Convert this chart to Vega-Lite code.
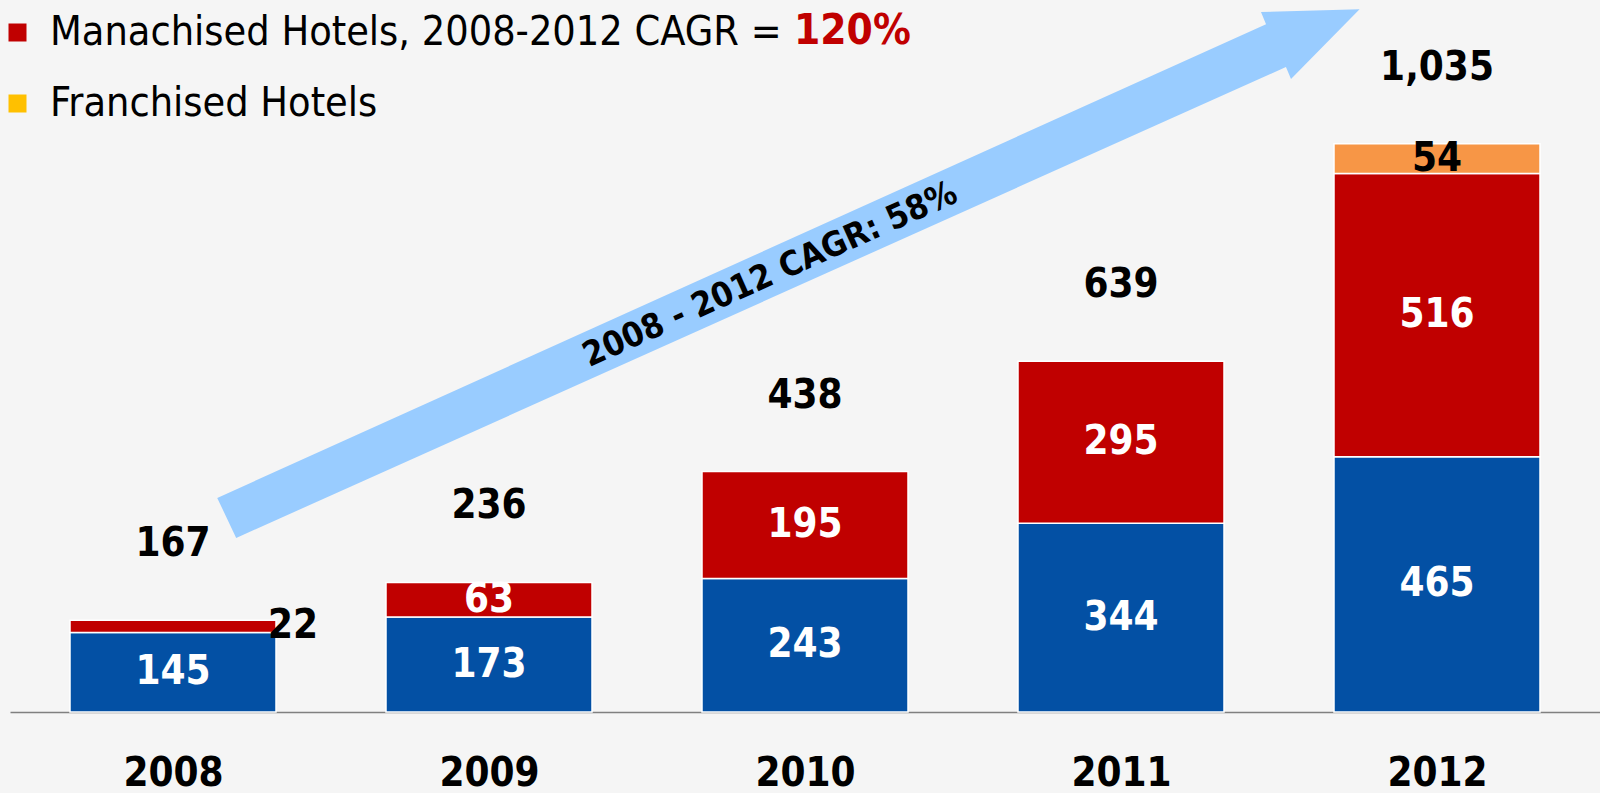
{
  "$schema": "https://vega.github.io/schema/vega-lite/v6.json",
  "width": 1590,
  "height": 712,
  "autosize": {"type": "none"},
  "padding": {"left": 10, "top": 0, "right": 0, "bottom": 81},
  "background": "#F5F5F5",
  "config": {"view": {"stroke": null}, "font": "DejaVu Sans Condensed"},
  "datasets": {
    "hotels": [
      {"year": 2008, "type": "Owned", "seg": 1, "value": 145},
      {"year": 2008, "type": "Manachised", "seg": 2, "value": 22},
      {"year": 2009, "type": "Owned", "seg": 1, "value": 173},
      {"year": 2009, "type": "Manachised", "seg": 2, "value": 63},
      {"year": 2010, "type": "Owned", "seg": 1, "value": 243},
      {"year": 2010, "type": "Manachised", "seg": 2, "value": 195},
      {"year": 2011, "type": "Owned", "seg": 1, "value": 344},
      {"year": 2011, "type": "Manachised", "seg": 2, "value": 295},
      {"year": 2012, "type": "Owned", "seg": 1, "value": 465},
      {"year": 2012, "type": "Manachised", "seg": 2, "value": 516},
      {"year": 2012, "type": "Franchised", "seg": 3, "value": 54}
    ],
    "arrow": [
      {"pt": 1, "year": 2008.14, "value": 390},
      {"pt": 2, "year": 2011.459, "value": 1253},
      {"pt": 3, "year": 2011.443, "value": 1275},
      {"pt": 4, "year": 2011.755, "value": 1280},
      {"pt": 5, "year": 2011.538, "value": 1153},
      {"pt": 6, "year": 2011.522, "value": 1175},
      {"pt": 7, "year": 2008.2, "value": 317}
    ],
    "arrowText": [
      {"year": 2009.89, "value": 796, "label": "2008 - 2012 CAGR: 58%"}
    ],
    "cagr": [
      {"year": 2010.15, "value": 1240, "label": "120%"}
    ]
  },
  "layer": [
    {
      "data": {"name": "arrow"},
      "mark": {"type": "line", "interpolate": "linear-closed", "color": "#99CCFF", "fill": "#99CCFF", "strokeWidth": 0},
      "encoding": {
        "x": {"field": "year", "type": "quantitative", "scale": {"domain": [2007.5, 2012.5], "nice": false, "zero": false},
          "axis": {"values": [2008, 2009, 2010, 2011, 2012], "format": "d", "title": null, "ticks": false, "grid": false,
            "labelFontSize": 40, "labelFontWeight": "bold", "labelColor": "black", "labelPadding": 41,
            "labelFont": "DejaVu Sans Condensed", "domainColor": "#808080", "domainWidth": 1.5}},
        "y": {"field": "value", "type": "quantitative", "scale": {"domain": [0, 1297], "nice": false}, "axis": null},
        "order": {"field": "pt"}
      }
    },
    {
      "data": {"name": "arrowText"},
      "mark": {"type": "text", "angle": -24.2, "fontSize": 34, "fontWeight": "bold", "color": "black", "baseline": "middle", "align": "center"},
      "encoding": {
        "x": {"field": "year", "type": "quantitative"},
        "y": {"field": "value", "type": "quantitative"},
        "text": {"field": "label"}
      }
    },
    {
      "data": {"name": "hotels"},
      "transform": [{"filter": "datum.type != 'Owned'"}],
      "mark": {"type": "square", "opacity": 0},
      "encoding": {
        "x": {"field": "year", "type": "quantitative"},
        "y": {"datum": 0, "type": "quantitative"},
        "fill": {"field": "type", "type": "nominal",
          "scale": {"domain": ["Manachised", "Franchised"], "range": ["#C00000", "#FFC000"]},
          "legend": {"orient": "none", "legendX": -13, "legendY": 12, "title": null, "symbolType": "square",
            "symbolSize": 324, "symbolOpacity": 1, "symbolStrokeWidth": 0, "labelFontSize": 41,
            "labelFont": "DejaVu Sans Condensed", "labelColor": "black", "labelOffset": 12, "rowPadding": 29,
            "labelLimit": 1200,
            "labelExpr": "datum.label == 'Manachised' ? 'Manachised Hotels, 2008-2012 CAGR =' : 'Franchised Hotels'"}}
      }
    },
    {
      "data": {"name": "cagr"},
      "mark": {"type": "text", "fontSize": 42, "fontWeight": "bold", "color": "#C00000", "baseline": "middle", "align": "center"},
      "encoding": {
        "x": {"field": "year", "type": "quantitative"},
        "y": {"field": "value", "type": "quantitative"},
        "text": {"field": "label"}
      }
    },
    {
      "data": {"name": "hotels"},
      "transform": [
        {"stack": "value", "groupby": ["year"], "sort": [{"field": "seg"}], "as": ["v0", "v1"]},
        {"calculate": "(datum.v0 + datum.v1) / 2", "as": "mid"}
      ],
      "layer": [
        {
          "mark": {"type": "bar", "width": 206, "stroke": "white", "strokeWidth": 1.5},
          "encoding": {
            "x": {"field": "year", "type": "quantitative"},
            "y": {"field": "v0", "type": "quantitative"},
            "y2": {"field": "v1"},
            "color": {"field": "type", "type": "nominal",
              "scale": {"domain": ["Owned", "Manachised", "Franchised"], "range": ["#0350A4", "#C00000", "#F79646"]},
              "legend": null}
          }
        },
        {
          "transform": [{"filter": "!(datum.year == 2008 && datum.type == 'Manachised')"}],
          "mark": {"type": "text", "fontSize": 40, "fontWeight": "bold", "baseline": "middle", "align": "center"},
          "encoding": {
            "x": {"field": "year", "type": "quantitative"},
            "y": {"field": "mid", "type": "quantitative"},
            "text": {"field": "value", "type": "quantitative"},
            "color": {"condition": {"test": "datum.type == 'Franchised'", "value": "black"}, "value": "white"}
          }
        },
        {
          "transform": [{"filter": "datum.year == 2008 && datum.type == 'Manachised'"}],
          "mark": {"type": "text", "fontSize": 40, "fontWeight": "bold", "baseline": "middle", "align": "center", "dx": 120, "color": "black"},
          "encoding": {
            "x": {"field": "year", "type": "quantitative"},
            "y": {"field": "mid", "type": "quantitative"},
            "text": {"field": "value", "type": "quantitative"}
          }
        }
      ]
    },
    {
      "data": {"name": "hotels"},
      "transform": [{"aggregate": [{"op": "sum", "field": "value", "as": "total"}], "groupby": ["year"]}],
      "mark": {"type": "text", "fontSize": 40, "fontWeight": "bold", "baseline": "middle", "align": "center", "dy": -76, "color": "black"},
      "encoding": {
        "x": {"field": "year", "type": "quantitative"},
        "y": {"field": "total", "type": "quantitative"},
        "text": {"field": "total", "type": "quantitative", "format": ","}
      }
    }
  ]
}
